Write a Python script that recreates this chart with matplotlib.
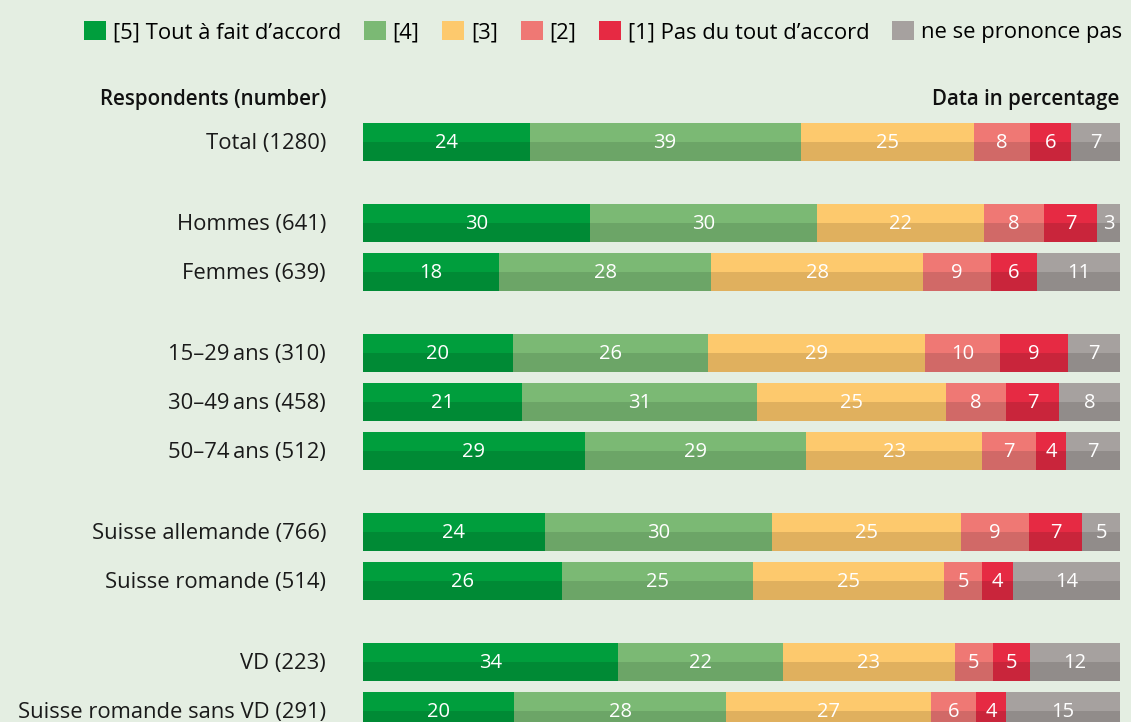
import numpy as np
import matplotlib.pyplot as plt
from matplotlib.patches import Patch

plt.rcParams['font.family'] = ['Open Sans', 'DejaVu Sans']

# data
categories = ['Total (1280)', 'Hommes (641)', 'Femmes (639)',
              '15\u201329\u2009ans (310)', '30\u201349\u2009ans (458)', '50\u201374\u2009ans (512)',
              'Suisse allemande (766)', 'Suisse romande (514)',
              'VD (223)', 'Suisse romande sans VD (291)']
groups = [0, 1, 1, 2, 2, 2, 3, 3, 4, 4]

s5 = [24, 30, 18, 20, 21, 29, 24, 26, 34, 20]
s4 = [39, 30, 28, 26, 31, 29, 30, 25, 22, 28]
s3 = [25, 22, 28, 29, 25, 23, 25, 25, 23, 27]
s2 = [8, 8, 9, 10, 8, 7, 9, 5, 5, 6]
s1 = [6, 7, 6, 9, 7, 4, 7, 4, 5, 4]
snr = [7, 3, 11, 7, 8, 7, 5, 14, 12, 15]

series_names = ['[5] Tout \u00e0 fait d\u2019accord', '[4]', '[3]', '[2]',
                '[1] Pas du tout d\u2019accord', 'ne se prononce pas']
light = ['#009e3d', '#7bb974', '#fdc96d', '#ef7874', '#e62a43', '#a6a19f']
dark = ['#008a35', '#6ca567', '#e0b05e', '#d16967', '#c9253b', '#918c8a']
bg = '#e4eee2'

W, H = 1131, 722
fig = plt.figure(figsize=(W / 100, H / 100), dpi=100, facecolor=bg)
ax = fig.add_axes([363 / W, 0, 757 / W, 1])
ax.set_facecolor(bg)

data = np.array([s5, s4, s3, s2, s1, snr], dtype=float)
pct = data / data.sum(axis=0) * 100  # each bar fills the width

gap = 32 / 49
y = np.arange(len(categories)) + gap * np.array(groups)
h = 38 / 49

left = np.zeros(len(categories))
for k in range(6):
    ax.barh(y - h / 4, pct[k], height=h / 2, left=left, color=light[k], linewidth=0)
    ax.barh(y + h / 4, pct[k], height=h / 2, left=left, color=dark[k], linewidth=0)
    for i in range(len(categories)):
        ax.text(left[i] + pct[k][i] / 2, y[i] + 0.02, str(int(data[k][i])),
                ha='center', va='center', color='white', fontsize=14.5)
    left += pct[k]

ax.set_xlim(0, 100)
ax.set_ylim((H - 142) / 49, -142 / 49)
ax.axis('off')

for i, c in enumerate(categories):
    fig.text(326 / W, 1 - (143.5 + 49 * y[i]) / H, c, ha='right', va='center',
             fontsize=15.8, color='#1a1a1a')

fig.text(326 / W, 1 - 99 / H, 'Respondents (number)', ha='right', va='center',
         fontsize=14.8, fontweight='semibold', color='#111111')
fig.text(1119 / W, 1 - 99 / H, 'Data in percentage', ha='right', va='center',
         fontsize=14.8, fontweight='semibold', color='#111111')

handles = [Patch(facecolor=light[k], edgecolor='none') for k in range(6)]
fig.legend(handles, series_names, loc='center right', bbox_to_anchor=(1122 / W, 1 - 32 / H),
           ncol=6, frameon=False, fontsize=15.8, handlelength=1.0, handleheight=1.0,
           handletextpad=0.3, columnspacing=1.05, borderaxespad=0, borderpad=0)

fig.savefig('out.png', dpi=100, facecolor=bg)
